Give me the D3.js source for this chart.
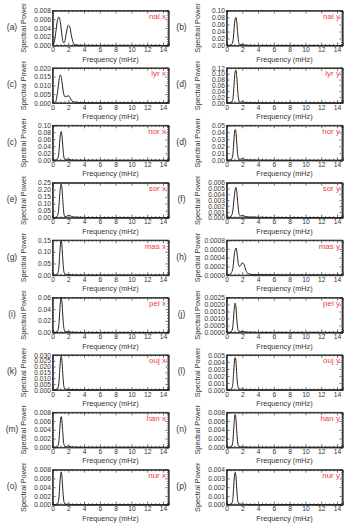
<!DOCTYPE html>
<html>
<head>
<meta charset="utf-8">
<script src="https://cdnjs.cloudflare.com/ajax/libs/d3/7.8.5/d3.min.js"></script>
<style>
  body { margin: 0; background: #fff; }
  svg { font-family: "Liberation Sans", Arial, sans-serif; }
</style>
</head>
<body>
<div id="vis"></div>
<script>
// frequency bins (mHz), shared by every panel
var freq = [0, 0.2, 0.4, 0.6, 0.8, 0.9, 1.0, 1.1, 1.2, 1.3, 1.4, 1.5, 1.6, 1.8, 2.0, 2.2, 2.4, 2.7, 3.0, 3.5, 4.0, 5.0, 7.0, 10.0, 14.7];

// spectral power per station / component
var nalX = [0.0001, 0.0006, 0.0028, 0.0055, 0.0065, 0.0062, 0.0052, 0.0038, 0.0022, 0.0011, 0.0006, 0.0007, 0.0013, 0.0033, 0.0046, 0.0042, 0.0022, 0.0004, 0.0001, 0.00005, 0.00004, 0.00003, 0.00002, 0.00002, 0.00001];
var nalY = [0.0005, 0.0005, 0.0008, 0.002, 0.01, 0.03, 0.058, 0.076, 0.08, 0.066, 0.04, 0.016, 0.005, 0.002, 0.003, 0.002, 0.001, 0.0005, 0.0003, 0.0002, 0.0002, 0.0001, 0.0001, 0.0001, 0.0001];
var lyrX = [0.0003, 0.0002, 0.0008, 0.005, 0.012, 0.015, 0.016, 0.0152, 0.012, 0.0085, 0.0055, 0.004, 0.0035, 0.0038, 0.004, 0.0032, 0.0015, 0.0006, 0.0004, 0.0002, 0.0001, 0.0001, 0.00005, 0.00005, 0.00005];
var lyrY = [0.001, 0.0008, 0.001, 0.002, 0.012, 0.04, 0.08, 0.107, 0.113, 0.09, 0.05, 0.018, 0.006, 0.002, 0.004, 0.003, 0.001, 0.0005, 0.0003, 0.0002, 0.0002, 0.0001, 0.0001, 0.0001, 0.0001];
var horX = [0.002, 0.001, 0.001, 0.003, 0.02, 0.048, 0.074, 0.082, 0.07, 0.042, 0.016, 0.005, 0.003, 0.003, 0.003, 0.002, 0.001, 0.0006, 0.0004, 0.0003, 0.0002, 0.0002, 0.0001, 0.0001, 0.0001];
var horY = [0.001, 0.0005, 0.0005, 0.001, 0.008, 0.022, 0.038, 0.044, 0.04, 0.025, 0.01, 0.003, 0.0015, 0.0015, 0.0022, 0.0018, 0.001, 0.0006, 0.0005, 0.0004, 0.0003, 0.0002, 0.0001, 0.0001, 0.0001];
var sorX = [0.003, 0.002, 0.003, 0.01, 0.07, 0.15, 0.215, 0.24, 0.21, 0.13, 0.05, 0.015, 0.008, 0.01, 0.016, 0.015, 0.009, 0.005, 0.004, 0.003, 0.002, 0.001, 0.0005, 0.0003, 0.0002];
var sorY = [0.0001, 0.0001, 0.0001, 0.0003, 0.0012, 0.0025, 0.0038, 0.0048, 0.0052, 0.0045, 0.003, 0.0015, 0.0006, 0.0003, 0.0004, 0.0003, 0.0002, 0.00015, 0.0001, 0.0001, 0.00008, 0.00005, 0.00003, 0.00002, 0.00002];
var masX = [0.002, 0.001, 0.001, 0.003, 0.03, 0.08, 0.13, 0.148, 0.125, 0.07, 0.025, 0.008, 0.004, 0.003, 0.003, 0.002, 0.001, 0.0006, 0.0004, 0.0003, 0.0002, 0.0001, 0.0001, 0.0001, 0.0001];
var masY = [0.00002, 0.00001, 0.00002, 0.00005, 0.00015, 0.0003, 0.00048, 0.00058, 0.00062, 0.00055, 0.0004, 0.00026, 0.0002, 0.00022, 0.00028, 0.00025, 0.00014, 0.00004, 0.00002, 0.00001, 0.00001, 0.00001, 0.000005, 0.000005, 0.000005];
var pelX = [0.001, 0.0005, 0.0005, 0.001, 0.012, 0.032, 0.052, 0.06, 0.052, 0.03, 0.012, 0.004, 0.002, 0.0015, 0.0015, 0.001, 0.0006, 0.0004, 0.0003, 0.0002, 0.0002, 0.0001, 0.0001, 0.0001, 0.0001];
var pelY = [0.00003, 0.00002, 0.00002, 0.00005, 0.0004, 0.0011, 0.0018, 0.0021, 0.0018, 0.001, 0.0004, 0.00015, 0.0001, 0.00008, 0.00008, 0.00006, 0.00004, 0.00003, 0.00002, 0.00002, 0.00001, 0.00001, 0.00001, 0.00001, 0.00001];
var oujX = [0.0003, 0.0002, 0.0002, 0.0005, 0.005, 0.015, 0.025, 0.029, 0.025, 0.014, 0.005, 0.0015, 0.0007, 0.0005, 0.0005, 0.0004, 0.0003, 0.0002, 0.0001, 0.0001, 0.0001, 0.00005, 0.00005, 0.00005, 0.00005];
var oujY = [0.00005, 0.00003, 0.00003, 0.0001, 0.0008, 0.0024, 0.0040, 0.0046, 0.0040, 0.0022, 0.0008, 0.0003, 0.00015, 0.0001, 0.0001, 0.00008, 0.00005, 0.00003, 0.00002, 0.00002, 0.00001, 0.00001, 0.00001, 0.00001, 0.00001];
var hanX = [0.0001, 0.00005, 0.00005, 0.0001, 0.0012, 0.0036, 0.006, 0.007, 0.006, 0.0034, 0.0012, 0.0004, 0.0002, 0.0002, 0.0003, 0.0002, 0.0001, 0.00005, 0.00004, 0.00003, 0.00002, 0.00002, 0.00001, 0.00001, 0.00001];
var hanY = [0.0001, 0.00005, 0.00005, 0.0001, 0.0013, 0.0038, 0.0064, 0.0075, 0.0064, 0.0036, 0.0013, 0.0004, 0.0002, 0.0001, 0.0001, 0.00008, 0.00005, 0.00003, 0.00002, 0.00002, 0.00001, 0.00001, 0.00001, 0.00001, 0.00001];
var nurX = [0.0001, 0.00005, 0.00005, 0.0001, 0.0013, 0.0038, 0.0064, 0.0075, 0.0064, 0.0036, 0.0013, 0.0004, 0.0002, 0.0001, 0.0001, 0.00008, 0.00005, 0.00003, 0.00002, 0.00002, 0.00001, 0.00001, 0.00001, 0.00001, 0.00001];
var nurY = [0.00005, 0.00003, 0.00003, 0.00006, 0.0006, 0.0019, 0.0032, 0.0037, 0.0032, 0.0018, 0.0006, 0.0002, 0.0001, 0.00006, 0.00006, 0.00004, 0.00003, 0.00002, 0.00001, 0.00001, 0.00001, 0.00001, 0.00001, 0.00001, 0.00001];

var stations = ["nal x", "nal y", "lyr x", "lyr y", "hor x", "hor y", "sor x", "sor y", "mas x", "mas y", "pel x", "pel y", "ouj x", "ouj y", "han x", "han y", "nur x", "nur y"];
var letters  = ["(a)", "(b)", "(c)", "(d)", "(c)", "(d)", "(e)", "(f)", "(g)", "(h)", "(i)", "(j)", "(k)", "(l)", "(m)", "(n)", "(o)", "(p)"];
var yMax  = [0.008, 0.10, 0.020, 0.12, 0.10, 0.05, 0.25, 0.006, 0.15, 0.0008, 0.06, 0.0025, 0.030, 0.005, 0.008, 0.008, 0.008, 0.004];
var yStep = [0.002, 0.02, 0.005, 0.02, 0.02, 0.01, 0.05, 0.001, 0.05, 0.0002, 0.02, 0.0005, 0.005, 0.001, 0.002, 0.002, 0.002, 0.001];
var xTicks = [0, 2, 4, 6, 8, 10, 12, 14];

var series = [nalX, nalY, lyrX, lyrY, horX, horY, sorX, sorY, masX, masY, pelX, pelY, oujX, oujY, hanX, hanY, nurX, nurY];

// layout
var W = 349, H = 527;
var colX = [0, 174],
    boxL = 52.5, boxR = 168.5,
    rowTop = 10.5, rowPitch = 57.4, boxH = 35;
var ink = "#333";

var svg = d3.select("#vis").append("svg")
    .attr("width", W)
    .attr("height", H);

var x = d3.scaleLinear().domain([0, 14.7]).range([boxL, boxR]);
var xMinor = d3.range(0, 14.7, 0.5).filter(function(v) { return v % 2 !== 0; });

series.forEach(function(vals, i) {
  var col = i % 2, row = Math.floor(i / 2);
  var g = svg.append("g")
      .attr("transform", "translate(" + colX[col] + "," + (rowTop + row * rowPitch) + ")");

  var y = d3.scaleLinear().domain([0, yMax[i]]).range([boxH, 0]);
  var nTicks = Math.round(yMax[i] / yStep[i]);
  var yTicks = d3.range(nTicks + 1).map(function(k) { return k * yStep[i]; });
  var yMinor = [];
  for (var k = 0; k < nTicks; k++) {
    for (var m = 1; m < 4; m++) yMinor.push((k + m / 4) * yStep[i]);
  }
  var fmt = d3.format("." + d3.precisionFixed(yStep[i]) + "f");

  // axes (ticks point inward, mirrored on top/right)
  g.append("g").attr("class", "ax")
      .attr("transform", "translate(0," + boxH + ")")
      .call(d3.axisBottom(x).tickValues(xTicks).tickSize(-3).tickPadding(2).tickFormat(d3.format("d")));
  g.append("g").attr("class", "ax")
      .attr("transform", "translate(0," + boxH + ")")
      .call(d3.axisBottom(x).tickValues(xMinor).tickSize(-1.5).tickFormat(""));
  g.append("g").attr("class", "ax")
      .call(d3.axisTop(x).tickValues(xTicks).tickSize(-3).tickFormat(""));
  g.append("g").attr("class", "ax")
      .call(d3.axisTop(x).tickValues(xMinor).tickSize(-1.5).tickFormat(""));
  g.append("g").attr("class", "ax")
      .attr("transform", "translate(" + boxL + ",0)")
      .call(d3.axisLeft(y).tickValues(yTicks).tickSize(-3).tickPadding(1.5).tickFormat(fmt));
  g.append("g").attr("class", "ax")
      .attr("transform", "translate(" + boxL + ",0)")
      .call(d3.axisLeft(y).tickValues(yMinor).tickSize(-1.5).tickFormat(""));
  g.append("g").attr("class", "ax")
      .attr("transform", "translate(" + boxR + ",0)")
      .call(d3.axisRight(y).tickValues(yTicks).tickSize(-3).tickFormat(""));
  g.append("g").attr("class", "ax")
      .attr("transform", "translate(" + boxR + ",0)")
      .call(d3.axisRight(y).tickValues(yMinor).tickSize(-1.5).tickFormat(""));

  g.selectAll(".ax path").attr("stroke", ink).attr("stroke-width", 0.8);
  g.selectAll(".ax line").attr("stroke", ink).attr("stroke-width", 0.7);
  g.selectAll(".ax text").attr("fill", ink).style("font-size", "6.7px");

  // box
  g.append("rect")
      .attr("x", boxL).attr("y", 0)
      .attr("width", boxR - boxL).attr("height", boxH)
      .attr("fill", "none").attr("stroke", ink).attr("stroke-width", 0.8);

  // spectrum
  var line = d3.line()
      .x(function(d, j) { return x(freq[j]); })
      .y(function(d) { return y(d); })
      .curve(d3.curveMonotoneX);
  g.append("path")
      .datum(vals)
      .attr("d", line)
      .attr("fill", "none")
      .attr("stroke", "#222")
      .attr("stroke-width", 1);

  // labels
  g.append("text")
      .attr("x", (boxL + boxR) / 2).attr("y", boxH + 16)
      .attr("text-anchor", "middle")
      .attr("fill", ink)
      .style("font-size", "7.3px")
      .text("Frequency (mHz)");
  g.append("text")
      .attr("transform", "translate(" + 25.5 + "," + (boxH / 2) + ") rotate(-90)")
      .attr("text-anchor", "middle")
      .attr("fill", ink)
      .style("font-size", "7.3px")
      .text("Spectral Power");
  g.append("text")
      .attr("x", col === 0 ? 12 : 7.5).attr("y", boxH / 2 + 2)
      .attr("text-anchor", "middle")
      .attr("fill", ink)
      .style("font-size", "8.5px")
      .text(letters[i]);
  g.append("text")
      .attr("x", boxR - 2.5).attr("y", 8.5)
      .attr("text-anchor", "end")
      .attr("fill", "#f03c46")
      .style("font-size", "8px")
      .text(stations[i]);
});
</script>
</body>
</html>
